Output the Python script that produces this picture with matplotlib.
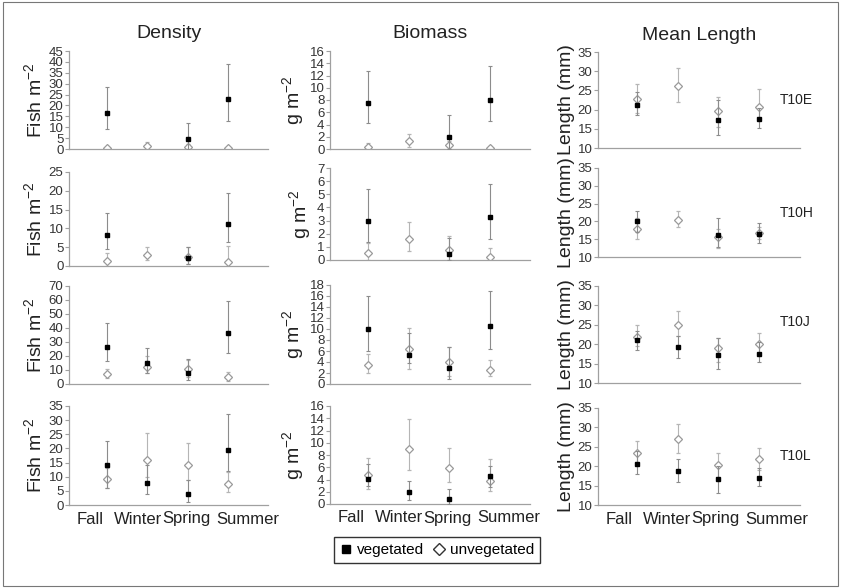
import numpy as np
import matplotlib
matplotlib.use("Agg")
import matplotlib.pyplot as plt
from matplotlib.lines import Line2D
from matplotlib.patches import Rectangle

plt.rcParams['font.family'] = ['Liberation Sans', 'DejaVu Sans']

""" DATA """
seasons = ["Fall", "Winter", "Spring", "Summer"]
sites = ["T10E", "T10H", "T10J", "T10L"]
nan = np.nan

# Density (fish m-2), rows = sites, cols = seasons
dens_veg = [[16.5, nan, 4.5, 23.0], [8.2, nan, 2.0, 11.3],
            [26.5, 15.0, 8.0, 36.5], [14.2, 7.7, 3.8, 19.5]]
dens_veg_lo = [[9.0, nan, 0.0, 13.0], [4.5, nan, 0.5, 6.5],
               [16.5, 8.0, 3.0, 22.0], [6.0, 4.0, 1.2, 12.0]]
dens_veg_hi = [[28.5, nan, 12.0, 39.0], [14.0, nan, 5.0, 19.3],
               [43.5, 26.0, 18.0, 59.5], [22.5, 14.0, 9.0, 32.0]]
dens_unv = [[0.5, 1.5, 1.0, 0.3], [1.3, 3.0, 2.5, 1.0],
            [7.0, 12.0, 10.5, 5.0], [9.3, 16.0, 14.2, 7.3]]
dens_unv_lo = [[0.0, 0.5, 0.0, 0.0], [0.0, 1.5, 0.5, 0.0],
               [4.0, 8.0, 5.0, 2.5], [6.0, 10.0, 9.0, 4.5]]
dens_unv_hi = [[1.0, 3.0, 2.5, 0.5], [3.5, 5.0, 5.0, 5.3],
               [11.0, 20.0, 17.5, 8.5], [13.0, 25.3, 22.0, 11.8]]

# Biomass (g m-2)
bio_veg = [[7.5, nan, 2.0, 8.0], [3.0, nan, 0.45, 3.25],
           [10.0, 5.3, 2.9, 10.6], [4.1, 1.9, 0.8, 4.5]]
bio_veg_lo = [[4.2, nan, 0.0, 4.5], [1.4, nan, 0.0, 1.6],
              [6.0, 3.8, 1.0, 6.4], [3.0, 0.7, 0.0, 2.8]]
bio_veg_hi = [[12.7, nan, 5.5, 13.6], [5.4, nan, 1.7, 5.8],
              [16.0, 9.3, 6.8, 17.0], [6.5, 3.8, 2.5, 6.2]]
bio_unv = [[0.3, 1.3, 0.6, 0.1], [0.55, 1.6, 0.75, 0.25],
           [3.4, 6.4, 4.0, 2.6], [4.8, 9.0, 5.8, 3.8]]
bio_unv_lo = [[0.0, 0.4, 0.0, 0.0], [0.0, 0.7, 0.0, 0.0],
              [2.0, 2.8, 1.5, 1.5], [2.4, 5.5, 3.6, 2.2]]
bio_unv_hi = [[1.0, 2.5, 1.3, 0.5], [1.3, 2.9, 1.8, 0.9],
              [5.5, 10.2, 6.7, 4.4], [7.5, 13.8, 9.2, 7.4]]

# Mean length (mm)
len_veg = [[21.2, nan, 17.4, 17.6], [20.0, nan, 16.3, 16.5],
           [21.0, 19.2, 17.1, 17.4], [20.5, 18.8, 16.7, 17.0]]
len_veg_lo = [[18.5, nan, 13.5, 15.3], [17.0, nan, 12.8, 13.8],
              [18.5, 16.5, 13.5, 15.3], [18.0, 16.0, 13.0, 14.8]]
len_veg_hi = [[24.5, nan, 22.5, 20.5], [23.0, nan, 21.0, 19.5],
              [23.5, 22.0, 21.5, 20.5], [24.0, 21.8, 20.0, 19.5]]
len_unv = [[22.7, 26.1, 19.7, 20.8], [17.9, 20.5, 15.5, 16.8],
           [21.8, 25.0, 19.0, 20.1], [23.5, 27.0, 20.4, 21.8]]
len_unv_lo = [[19.0, 22.0, 15.5, 17.5], [15.0, 18.3, 12.5, 15.0],
              [19.5, 22.0, 15.5, 17.5], [21.0, 23.5, 17.0, 19.0]]
len_unv_hi = [[26.7, 30.8, 23.4, 25.3], [21.0, 23.0, 18.0, 18.5],
              [25.0, 28.6, 21.7, 23.0], [26.5, 30.8, 23.4, 24.8]]

dens_ticks = [np.arange(0, 46, 5), np.arange(0, 26, 5),
              np.arange(0, 71, 10), np.arange(0, 36, 5)]
bio_ticks = [np.arange(0, 17, 2), np.arange(0, 8, 1),
             np.arange(0, 19, 2), np.arange(0, 17, 2)]
len_ticks = [np.arange(10, 36, 5)] * 4

""" LAYOUT (pixels) """
W, H = 841, 588
col_left = [69, 330, 598]
col_right = [268, 530, 800]
# top / bottom of each axes per row, per column
row_top = [[51, 51, 52], [172, 168, 168], [286, 285, 286], [406, 406, 408]]
row_bot = [[149, 149, 148], [266, 260, 257], [384, 384, 383], [505, 504, 505]]
season_label_x = [21, 69, 117, 179]   # px from axis left, labels spread wider than points
site_label_y = [100, 213, 322, 456]

metrics = [
    (dens_veg, dens_veg_lo, dens_veg_hi, dens_unv, dens_unv_lo, dens_unv_hi,
     dens_ticks, "Fish m$^{\\mathregular{-2}}$", "Density"),
    (bio_veg, bio_veg_lo, bio_veg_hi, bio_unv, bio_unv_lo, bio_unv_hi,
     bio_ticks, "g m$^{\\mathregular{-2}}$", "Biomass"),
    (len_veg, len_veg_lo, len_veg_hi, len_unv, len_unv_lo, len_unv_hi,
     len_ticks, "Length (mm)", "Mean Length"),
]

fig = plt.figure(figsize=(W / 100, H / 100), dpi=100)
fig.patches.append(Rectangle((0.004, 0.004), 0.992, 0.992, transform=fig.transFigure,
                             fill=False, edgecolor="#777777", linewidth=0.8))

x = np.arange(1, 5)

for c, (vm, vl, vh, um, ul, uh, ticks, ylab, title) in enumerate(metrics):
    for r in range(4):
        left = col_left[c] / W
        width = (col_right[c] - col_left[c]) / W
        bottom = 1 - row_bot[r][c] / H
        height = (row_bot[r][c] - row_top[r][c]) / H
        ax = fig.add_axes([left, bottom, width, height])

        for m, lo, hi, style in [(um, ul, uh, "unv"), (vm, vl, vh, "veg")]:
            m = np.array(m[r]); lo = np.array(lo[r]); hi = np.array(hi[r])
            ok = ~np.isnan(m)
            yerr = [m[ok] - lo[ok], hi[ok] - m[ok]]
            if style == "veg":
                ax.errorbar(x[ok], m[ok], yerr=yerr, fmt="s", ms=3.5,
                            mfc="black", mec="black", ecolor="#8c8c8c",
                            elinewidth=0.8, capsize=1.5, capthick=0.8, zorder=3)
            else:
                ax.errorbar(x[ok], m[ok], yerr=yerr, fmt="D", ms=4.5,
                            mfc="white", mec="#9a9a9a", mew=0.9, ecolor="#b5b5b5",
                            elinewidth=0.8, capsize=1.5, capthick=0.8, zorder=2)

        ax.set_xlim(0.05, 5.0)
        ax.set_ylim(ticks[r][0], ticks[r][-1])
        ax.set_yticks(ticks[r])
        for s in ["top", "right"]:
            ax.spines[s].set_visible(False)
        for s in ["left", "bottom"]:
            ax.spines[s].set_color("#a0a0a0")
            ax.spines[s].set_linewidth(0.9)
        ax.tick_params(axis="y", labelsize=9.5, colors="#a0a0a0", labelcolor="#333333",
                       length=3, width=0.8, pad=1)
        ax.set_xticks([])
        ax.set_ylabel(ylab, fontsize=14, labelpad=2, color="#222222")
        ax.patch.set_alpha(0)

        if r == 3:
            ax_w = col_right[c] - col_left[c]
            for s_name, off in zip(seasons, season_label_x):
                ax.text(off / ax_w, -14 / (row_bot[r][c] - row_top[r][c]), s_name,
                        transform=ax.transAxes, fontsize=12, ha="center", va="center",
                        color="#222222")
        if r == 0:
            ax.set_title(title, fontsize=14, pad=9, color="#222222")
        if c == 2:
            ax.text(780 / W, 1 - site_label_y[r] / H, sites[r], transform=fig.transFigure,
                    fontsize=10, ha="left", va="center", color="#222222")

handles = [
    Line2D([], [], ls="none", marker="s", ms=6, mfc="black", mec="black"),
    Line2D([], [], ls="none", marker="D", ms=6, mfc="white", mec="#333333"),
]
fig.legend(handles, ["vegetated", "unvegetated"], loc="center",
           bbox_to_anchor=(437 / W, 1 - 550 / H), ncol=2, fontsize=11,
           frameon=True, fancybox=False, edgecolor="black", handlelength=0.8,
           handletextpad=0.3, columnspacing=0.6, borderpad=0.4)

fig.savefig("out.png", dpi=100)
